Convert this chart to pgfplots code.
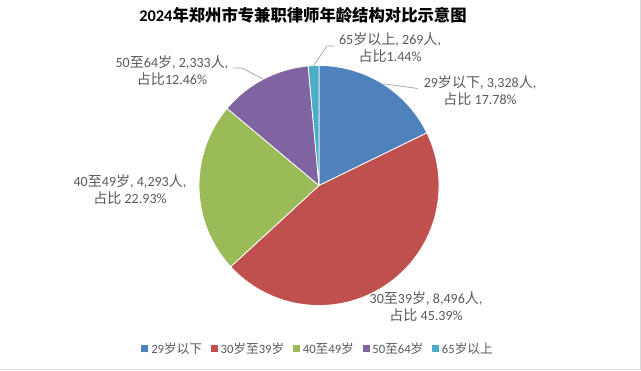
\documentclass[border=0pt]{standalone}
\usepackage{fontspec}
\usepackage{pgfplots}
\usepackage{pgfplotstable}
\pgfplotsset{compat=1.18}
\setmainfont{Carlito}
\newfontfamily\cjk{Noto Sans CJK SC}
\newcommand\zh[1]{{\cjk #1}}
\definecolor{cBlue}{HTML}{4F81BD}
\definecolor{cRed}{HTML}{C0504D}
\definecolor{cGreen}{HTML}{9BBB59}
\definecolor{cPurple}{HTML}{8064A2}
\definecolor{cTeal}{HTML}{4BACC6}
\definecolor{txtgray}{HTML}{595959}
\definecolor{leadgray}{HTML}{A6A6A6}

\pgfplotstableread{
group count
a 3328
b 8496
c 4293
d 2333
e 269
}\agetable
\pgfplotstablegetelem{0}{count}\of\agetable \edef\cA{\pgfplotsretval}
\pgfplotstablegetelem{1}{count}\of\agetable \edef\cB{\pgfplotsretval}
\pgfplotstablegetelem{2}{count}\of\agetable \edef\cC{\pgfplotsretval}
\pgfplotstablegetelem{3}{count}\of\agetable \edef\cD{\pgfplotsretval}
\pgfplotstablegetelem{4}{count}\of\agetable \edef\cE{\pgfplotsretval}
\pgfmathsetmacro\T{\cA/1000+\cB/1000+\cC/1000+\cD/1000+\cE/1000}
\pgfmathsetmacro\aA{90}
\pgfmathsetmacro\aB{\aA-360*(\cA/1000)/\T}
\pgfmathsetmacro\aC{\aB-360*(\cB/1000)/\T}
\pgfmathsetmacro\aD{\aC-360*(\cC/1000)/\T}
\pgfmathsetmacro\aE{\aD-360*(\cD/1000)/\T}
\pgfmathsetmacro\aF{-270}

\begin{document}
\begin{tikzpicture}[x=1bp,y=1bp]
\fill[white] (0,0) rectangle (641,370);
\path[use as bounding box] (0,0) rectangle (641,370);
\draw[black!15, line width=1bp] (640.5,370) -- (640.5,1) -- (0,1);
\node[font=\fontsize{16.4}{19}\selectfont\bfseries, text=black] at (303,355) {2024\zh{年郑州市专兼职律师年龄结构对比示意图}};
\begin{axis}[
  at={(319bp,184.5bp)}, anchor=center,
  width=240bp, height=240bp, scale only axis,
  xmin=-1, xmax=1, ymin=-1, ymax=1,
  hide axis, clip=false,
  legend columns=-1,
  legend image code/.code={\fill[#1, draw=none] (0bp,-3.5bp) rectangle (7bp,3.5bp);},
  legend style={at={(0.498,-0.181)}, anchor=center, draw=none, fill=none,
    font=\fontsize{12.7}{14}\selectfont, text=txtgray,
    /tikz/every even column/.append style={column sep=6bp},
    nodes={inner xsep=2.8bp}},
]
\addplot[fill=cBlue, draw=white, line width=0.8bp, domain=\aB:\aA, samples=60, variable=\t] ({cos(\t)},{sin(\t)}) -- (axis cs:0,0) -- cycle;
\addlegendentry{29\zh{岁以下}}
\addplot[fill=cRed, draw=white, line width=0.8bp, domain=\aC:\aB, samples=120, variable=\t] ({cos(\t)},{sin(\t)}) -- (axis cs:0,0) -- cycle;
\addlegendentry{30\zh{岁至}39\zh{岁}}
\addplot[fill=cGreen, draw=white, line width=0.8bp, domain=\aD:\aC, samples=70, variable=\t] ({cos(\t)},{sin(\t)}) -- (axis cs:0,0) -- cycle;
\addlegendentry{40\zh{至}49\zh{岁}}
\addplot[fill=cPurple, draw=white, line width=0.8bp, domain=\aE:\aD, samples=50, variable=\t] ({cos(\t)},{sin(\t)}) -- (axis cs:0,0) -- cycle;
\addlegendentry{50\zh{至}64\zh{岁}}
\addplot[fill=cTeal, draw=white, line width=0.8bp, domain=\aF:\aE, samples=10, variable=\t] ({cos(\t)},{sin(\t)}) -- (axis cs:0,0) -- cycle;
\addlegendentry{65\zh{岁以上}}

\draw[leadgray, line width=0.75bp] (axis cs:-0.045,0.999) -- (axis cs:0.067,1.1625) -- (axis cs:0.133,1.1625);
\draw[leadgray, line width=0.75bp] (axis cs:0.53,0.848) -- (axis cs:0.825,0.808);
\draw[leadgray, line width=0.75bp] (axis cs:-0.463,0.886) -- (axis cs:-0.642,0.979) -- (axis cs:-0.717,0.979);

\node[align=center, font=\fontsize{14.1}{17}\selectfont, text=txtgray] at (axis cs:0.592,1.146) {65\zh{岁以上}, 269\zh{人},\\\zh{占比}1.44\%};
\node[align=center, font=\fontsize{14.1}{17}\selectfont, text=txtgray] at (axis cs:1.342,0.792) {29\zh{岁以下}, 3,328\zh{人},\\\zh{占比} 17.78\%};
\node[align=center, font=\fontsize{14.1}{17}\selectfont, text=txtgray] at (axis cs:0.892,-1.008) {30\zh{至}39\zh{岁}, 8,496\zh{人},\\\zh{占比} 45.39\%};
\node[align=center, font=\fontsize{14.1}{17}\selectfont, text=txtgray] at (axis cs:-1.575,-0.0375) {40\zh{至}49\zh{岁}, 4,293\zh{人},\\\zh{占比} 22.93\%};
\node[align=center, font=\fontsize{14.1}{17}\selectfont, text=txtgray] at (axis cs:-1.225,0.958) {50\zh{至}64\zh{岁}, 2,333\zh{人},\\\zh{占比}12.46\%};
\end{axis}
\end{tikzpicture}
\end{document}
